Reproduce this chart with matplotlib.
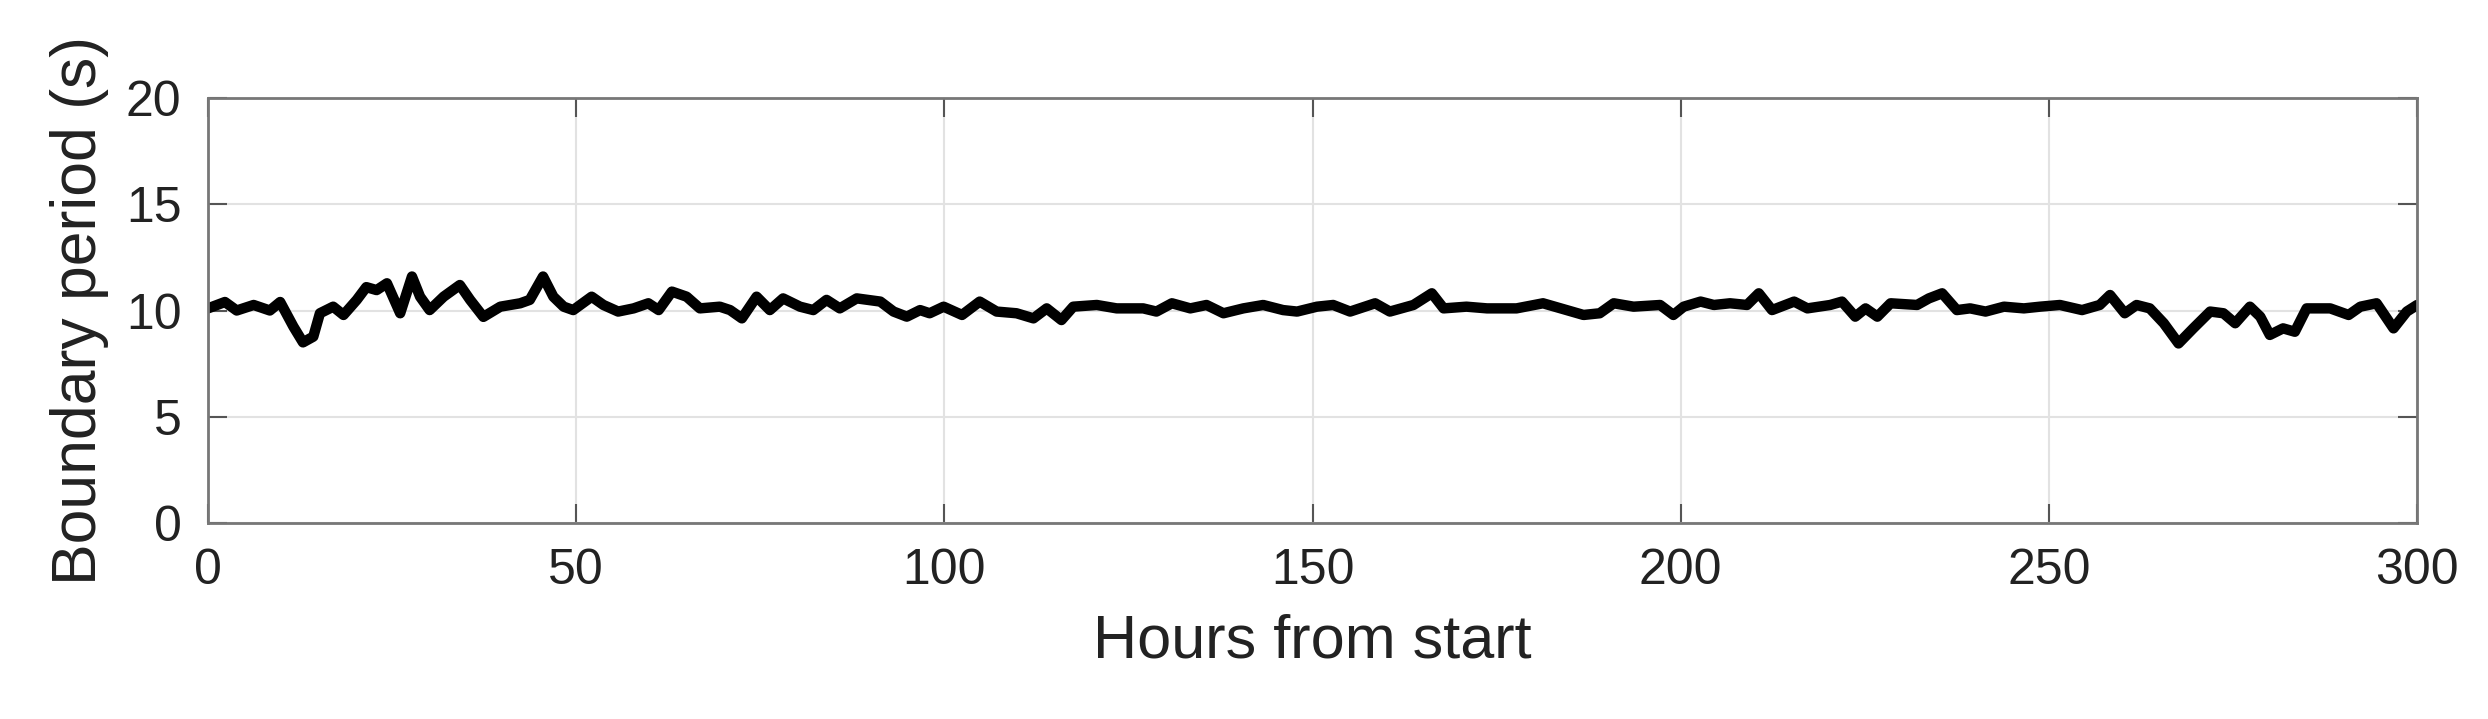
import matplotlib
matplotlib.use("Agg")
import matplotlib.pyplot as plt
import numpy as np

plt.rcParams["font.family"] = ["Liberation Sans", "DejaVu Sans"]

# values (hours, seconds)
hours = [
    0.0, 2.3, 3.9, 6.2, 8.4, 9.8, 11.6, 12.9, 14.3, 15.2, 17.0, 18.4, 20.2, 21.5,
    22.9, 24.3, 26.1, 27.7, 28.8, 30.1, 32.0, 34.2, 35.6, 37.4, 39.7, 42.4, 43.7,
    45.5, 46.9, 48.3, 49.6, 52.1, 53.7, 55.7, 57.8, 59.8, 61.2, 63.0, 65.0, 66.8,
    69.5, 70.9, 72.5, 74.5, 76.3, 78.1, 80.4, 82.2, 84.0, 85.8, 88.1, 91.3, 93.1,
    94.9, 96.7, 98.0, 99.9, 102.4, 104.8, 107.1, 109.8, 112.1, 113.9, 115.9,
    117.5, 120.7, 123.4, 127.0, 128.8, 130.9, 133.4, 135.6, 137.9, 140.6, 143.3,
    146.0, 147.9, 150.6, 152.8, 155.1, 158.5, 160.5, 163.7, 166.2, 167.8, 170.9,
    173.7, 177.7, 181.3, 184.5, 186.8, 189.0, 190.9, 193.6, 197.2, 199.0, 200.4,
    202.7, 204.5, 206.7, 209.0, 210.6, 212.4, 215.4, 217.2, 220.3, 221.9, 223.7,
    225.1, 226.7, 228.5, 232.1, 233.7, 235.5, 237.5, 239.3, 241.4, 243.9, 246.6,
    248.8, 251.5, 254.5, 256.9, 258.3, 260.3, 261.9, 263.7, 265.6, 267.6, 269.6,
    271.9, 273.7, 275.3, 277.3, 278.7, 280.0, 281.8, 283.4, 285.0, 288.2, 290.7,
    292.3, 294.5, 296.8, 298.6, 300.0,
]
period = [
    10.1, 10.4, 10.0, 10.26, 10.0, 10.4, 9.24, 8.5, 8.77, 9.87, 10.18, 9.79, 10.5,
    11.1, 10.96, 11.28, 9.87, 11.6, 10.65, 10.02, 10.65, 11.2, 10.5, 9.7, 10.18,
    10.34, 10.5, 11.6, 10.65, 10.18, 10.02, 10.65, 10.26, 9.95, 10.1, 10.34, 10.02,
    10.89, 10.65, 10.1, 10.18, 10.02, 9.63, 10.65, 10.02, 10.57, 10.18, 10.02,
    10.5, 10.1, 10.57, 10.42, 9.95, 9.71, 10.02, 9.87, 10.18, 9.79, 10.42, 9.95,
    9.87, 9.63, 10.1, 9.55, 10.18, 10.26, 10.1, 10.1, 9.95, 10.34, 10.1, 10.26,
    9.87, 10.1, 10.26, 10.02, 9.95, 10.18, 10.26, 9.95, 10.34, 9.95, 10.26, 10.81,
    10.1, 10.18, 10.1, 10.1, 10.34, 10.02, 9.79, 9.87, 10.34, 10.18, 10.26, 9.79,
    10.18, 10.42, 10.26, 10.34, 10.26, 10.81, 10.02, 10.42, 10.1, 10.26, 10.42,
    9.71, 10.1, 9.71, 10.34, 10.26, 10.57, 10.81, 10.02, 10.1, 9.95, 10.18, 10.1,
    10.18, 10.26, 10.02, 10.26, 10.73, 9.87, 10.26, 10.1, 9.4, 8.45, 9.16, 9.95,
    9.87, 9.4, 10.18, 9.71, 8.85, 9.16, 9.0, 10.1, 10.1, 9.79, 10.18, 10.34, 9.16,
    9.95, 10.26,
]

x_ticks = [0, 50, 100, 150, 200, 250, 300]
y_ticks = [0, 5, 10, 15, 20]

fig = plt.figure(figsize=(24.88, 7.19), dpi=100)
ax = fig.add_axes([0.0836, 0.2726, 0.8879, 0.5911])

ax.plot(hours, period, color="black", linewidth=7.5,
        solid_joinstyle="round", solid_capstyle="round")

ax.set_xlim(0, 300)
ax.set_ylim(0, 20)
ax.set_xticks(x_ticks)
ax.set_yticks(y_ticks)
ax.grid(True, color="#e2e2e2", linewidth=1.5)
ax.set_axisbelow(True)

for spine in ax.spines.values():
    spine.set_color("#777777")
    spine.set_linewidth(2)

ax.tick_params(direction="in", length=14, width=1.5, colors="#555555",
               labelcolor="#222222", labelsize=36, top=True, right=True)
ax.tick_params(axis="x", pad=18)
ax.tick_params(axis="y", pad=19)

ax.set_xlabel("Hours from start", fontsize=44, color="#222222", labelpad=14)
ax.set_ylabel("Boundary period (s)", fontsize=45, color="#222222", labelpad=12)

fig.savefig("out.png", dpi=100, facecolor="white")
